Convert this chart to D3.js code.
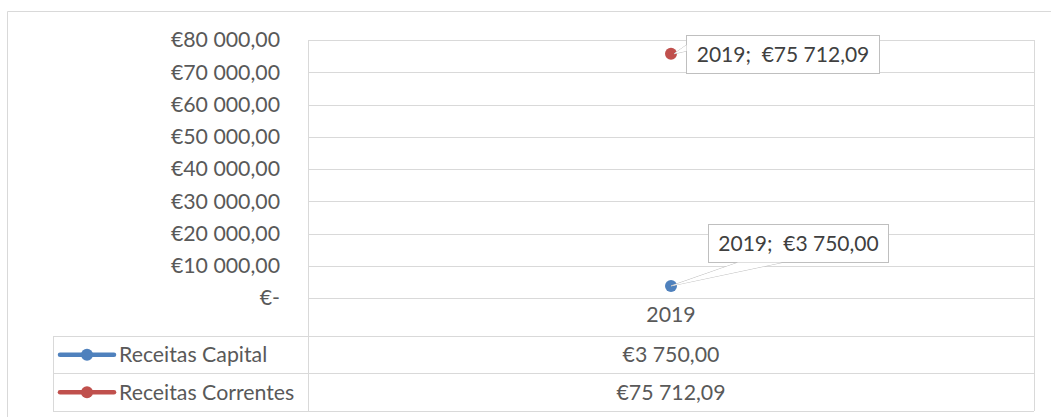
<!DOCTYPE html>
<html lang="pt">
<head>
<meta charset="UTF-8">
<title>Receitas</title>
<script src="https://d3js.org/d3.v7.min.js"></script>
<style>
  * { margin: 0; padding: 0; box-sizing: border-box; }
  body { background: #fff; font-family: Lato, "Open Sans", sans-serif; }
</style>
</head>
<body>
<div id="chart"></div>
<script>
  const categories = ["2019"];
  const seriesNames = ["Receitas Capital", "Receitas Correntes"];
  const seriesColors = ["#4f81bd", "#c0504d"];
  const capitalValues = [3750.00];
  const correntesValues = [75712.09];
  const yTicks = [0, 10000, 20000, 30000, 40000, 50000, 60000, 70000, 80000];

  const W = 1051, H = 417;
  const plot = { left: 308, right: 1034, top: 40, bottom: 298 };
  const rowTop = 336, rowH = 37.5, tableLeft = 53;
  const grid = "#d9d9d9", txt = "#595959";
  const fs = "21.3px";

  const series = [
    { name: seriesNames[0], color: seriesColors[0], values: capitalValues },
    { name: seriesNames[1], color: seriesColors[1], values: correntesValues }
  ];

  const loc = d3.formatLocale({ decimal: ",", thousands: " ", grouping: [3], currency: ["€", ""] });
  const money = v => v === 0 ? "€-" : "€" + loc.format(",.2f")(v);

  const svg = d3.select("#chart").append("svg")
    .attr("width", W).attr("height", H)
    .style("font-family", "Lato, 'Open Sans', sans-serif");

  // borda exterior
  svg.append("path")
    .attr("d", `M7.5,${H} V11.5 H${W}`)
    .attr("fill", "none").attr("stroke", grid);

  const x = d3.scaleBand().domain(categories).range([plot.left, plot.right]);
  const y = d3.scaleLinear().domain([0, 80000]).range([plot.bottom, plot.top]);

  // grelha + eixo y
  svg.append("g")
    .attr("transform", `translate(${plot.left},0)`)
    .call(d3.axisLeft(y).tickValues(yTicks).tickSize(-(plot.right - plot.left)).tickPadding(28).tickFormat(money))
    .call(g => g.select(".domain").remove())
    .call(g => g.selectAll("line").attr("stroke", grid).attr("shape-rendering", "crispEdges"))
    .call(g => g.selectAll("text").attr("fill", txt).style("font-size", fs).style("font-family", "Lato, sans-serif"));

  // linhas da tabela
  const tl = svg.append("g").attr("stroke", grid).attr("shape-rendering", "crispEdges");
  tl.append("line").attr("x1", plot.left).attr("x2", plot.left).attr("y1", plot.top).attr("y2", rowTop + 2 * rowH);
  tl.append("line").attr("x1", plot.right).attr("x2", plot.right).attr("y1", plot.top).attr("y2", rowTop + 2 * rowH);
  tl.append("line").attr("x1", tableLeft).attr("x2", tableLeft).attr("y1", rowTop).attr("y2", rowTop + 2 * rowH);
  [0, 1, 2].forEach(i => {
    tl.append("line").attr("x1", tableLeft).attr("x2", plot.right)
      .attr("y1", rowTop + i * rowH).attr("y2", rowTop + i * rowH);
  });

  // categoria
  svg.append("g")
    .attr("transform", `translate(0,${plot.bottom})`)
    .call(d3.axisBottom(x).tickSize(0).tickPadding(9))
    .call(g => g.select(".domain").remove())
    .call(g => g.selectAll("text").attr("fill", txt).style("font-size", fs).style("font-family", "Lato, sans-serif"));

  // linhas da tabela: legenda, nome, valores
  series.forEach((s, i) => {
    const cy = rowTop + i * rowH + rowH / 2;
    svg.append("line").attr("x1", 60).attr("x2", 114).attr("y1", cy).attr("y2", cy)
      .attr("stroke", s.color).attr("stroke-width", 4.5).attr("stroke-linecap", "round");
    svg.append("circle").attr("cx", 87).attr("cy", cy).attr("r", 6).attr("fill", s.color);
    svg.append("text").attr("x", 119).attr("y", cy).attr("dy", "0.35em")
      .attr("fill", txt).style("font-size", fs).text(s.name);
    s.values.forEach((v, j) => {
      svg.append("text").attr("x", x(categories[j]) + x.bandwidth() / 2).attr("y", cy).attr("dy", "0.35em")
        .attr("text-anchor", "middle").attr("fill", txt).style("font-size", fs).text(money(v));
    });
  });

  // pontos
  series.forEach(s => {
    svg.selectAll(null).data(s.values).join("circle")
      .attr("cx", (d, j) => x(categories[j]) + x.bandwidth() / 2)
      .attr("cy", d => y(d))
      .attr("r", 6).attr("fill", s.color);
  });

  // rótulos com chamada
  const cx0 = x(categories[0]) + x.bandwidth() / 2;
  const labels = [
    { s: series[1], box: { x: 686, y: 35, w: 193, h: 38 },
      callout: p => `M686.5,45 L${p.x + 3},${p.y} L686.5,51` },
    { s: series[0], box: { x: 708, y: 224, w: 180, h: 38 },
      callout: p => `M738,262.5 L${p.x},${p.y} L782,262.5` }
  ];
  labels.forEach(l => {
    const p = { x: cx0, y: y(l.s.values[0]) };
    svg.append("path").attr("d", l.callout(p)).attr("fill", "#fff").attr("stroke", "#bfbfbf");
    svg.append("rect").attr("x", l.box.x + 0.5).attr("y", l.box.y + 0.5).attr("width", l.box.w).attr("height", l.box.h)
      .attr("fill", "#fff").attr("stroke", "#bfbfbf");
    svg.append("path").attr("d", l.callout(p)).attr("fill", "#fff").attr("stroke", "none");
    svg.append("text").attr("x", l.box.x + l.box.w / 2 + 0.5).attr("y", l.box.y + l.box.h / 2 + 0.5).attr("dy", "0.35em")
      .attr("text-anchor", "middle").attr("fill", "#404040").style("font-size", "21px")
      .style("white-space", "pre").text(categories[0] + ";  " + money(l.s.values[0]));
  });
</script>
</body>
</html>
